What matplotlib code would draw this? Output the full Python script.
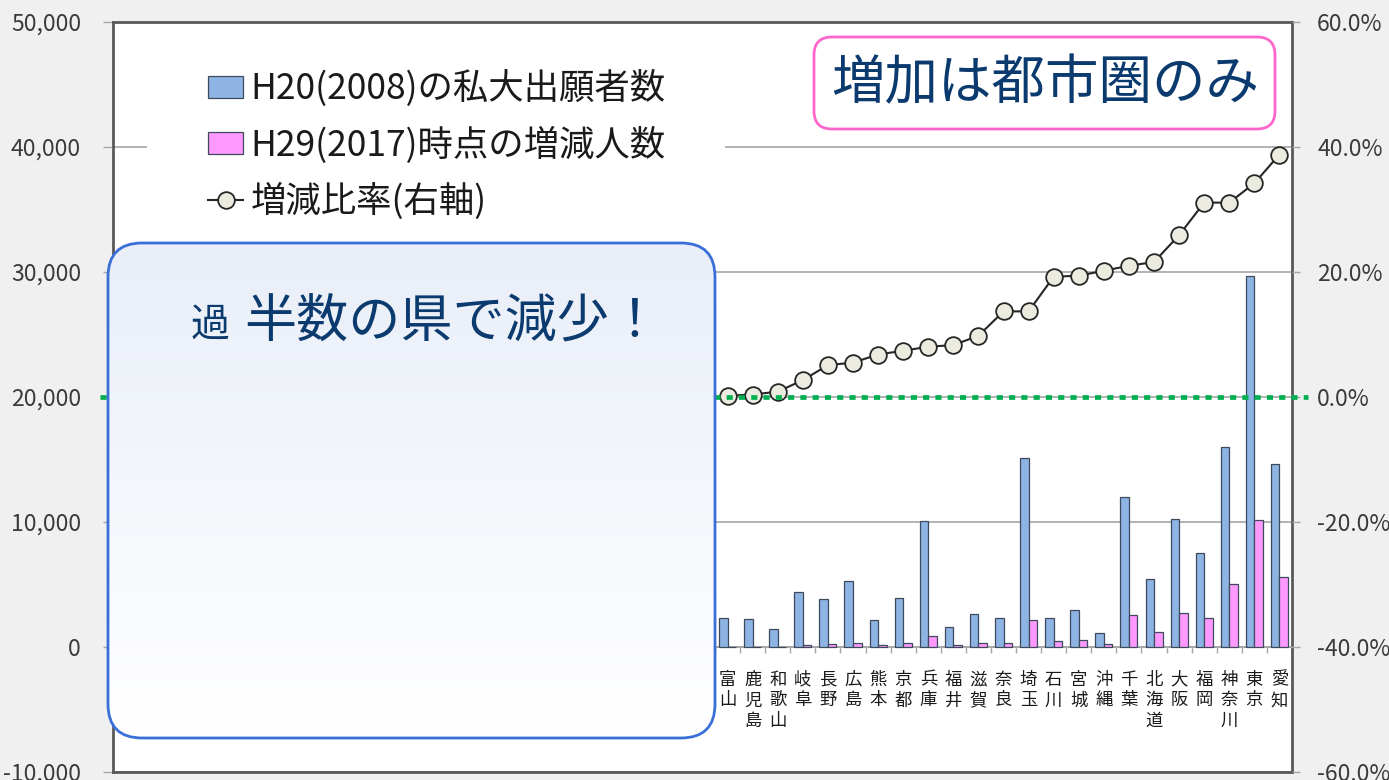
import numpy as np
import matplotlib
matplotlib.use('Agg')
import matplotlib.pyplot as plt
import matplotlib.ticker as mticker
from matplotlib.patches import FancyBboxPatch, Rectangle, Patch
from matplotlib.lines import Line2D
from matplotlib.colors import LinearSegmentedColormap

plt.rcParams['font.family'] = ['Noto Sans CJK JP', 'DejaVu Sans']

# ---------------- data ----------------
# 24 prefectures on the left are hidden under the call-out box in the original
hidden_labels = [''] * 24
visible_prefs = ['富山', '鹿児島', '和歌山', '岐阜', '長野', '広島', '熊本', '京都', '兵庫',
                 '福井', '滋賀', '奈良', '埼玉', '石川', '宮城', '沖縄', '千葉', '北海道',
                 '大阪', '福岡', '神奈川', '東京', '愛知']
applicants_2008 = [2350, 2210, 1440, 4370, 3810, 5250, 2130, 3950, 10080, 1630, 2610, 2350,
                   15150, 2350, 2960, 1150, 11970, 5410, 10210, 7550, 16030, 29700, 14610]
change_2017 = [10, 10, 15, 150, 250, 330, 150, 330, 900, 150, 330, 330,
               2140, 480, 590, 260, 2540, 1230, 2700, 2320, 5060, 10140, 5620]
change_rate = [0.2, 0.4, 0.85, 2.7, 5.1, 5.5, 6.8, 7.4, 8.05, 8.3, 9.8, 13.7,
               13.7, 19.25, 19.4, 20.2, 21.0, 21.6, 25.9, 31.1, 31.1, 34.2, 38.8]

labels = hidden_labels + visible_prefs
nan_pad = [np.nan] * len(hidden_labels)
bars_2008 = np.array(nan_pad + applicants_2008, dtype=float)
bars_2017 = np.array(nan_pad + change_2017, dtype=float)
rates = np.array(nan_pad + change_rate, dtype=float)

left_ticks = list(range(-10000, 50001, 10000))
right_ticks = list(range(-60, 61, 20))

legend_labels = ['H20(2008)の私大出願者数', 'H29(2017)時点の増減人数', '増減比率(右軸)']

# ---------------- figure ----------------
W, H = 1389, 780
fig = plt.figure(figsize=(W / 100, H / 100), dpi=100)
fig.patch.set_facecolor('#f0f0f0')

def fx(px):
    return px / W

def fy(py):
    return 1 - py / H

ax = fig.add_axes([fx(113), fy(772), fx(1292) - fx(113), fy(22) - fy(772)])
ax.set_facecolor('white')
x = np.arange(len(labels))
bw = 0.34
blue = '#8db4e2'
pink = '#ff99ff'
edge = '#3c4a5c'
ax.bar(x - bw / 2, bars_2008, width=bw, color=blue, edgecolor=edge, linewidth=0.9, zorder=3)
ax.bar(x + bw / 2, bars_2017, width=bw, color=pink, edgecolor=edge, linewidth=0.9, zorder=3)

ax.set_xlim(-0.5, len(labels) - 0.5)
ax.set_ylim(-10000, 50000)
ax.set_yticks(left_ticks)
ax.yaxis.set_major_formatter(mticker.FuncFormatter(lambda v, p: f'{v:,.0f}'))
ax.grid(axis='y', color='#a6a6a6', linewidth=1.2, zorder=0)
ax.set_axisbelow(True)

ax.set_xticks(x)
ax.set_xticklabels(['\n'.join(s) for s in labels])
ax.xaxis.set_minor_locator(mticker.FixedLocator(np.arange(-0.5, len(labels), 1.0)))
ax.tick_params(axis='x', which='major', length=0, pad=17, labelsize=12.5,
               labelcolor='#1a1a1a')
for t in ax.get_xticklabels():
    t.set_linespacing(0.88)
ax.tick_params(axis='x', which='minor', length=4, width=1, color='#a6a6a6', direction='out')
ax.tick_params(axis='y', length=7, width=1, color='#a6a6a6', labelsize=16.5,
               labelcolor='#3a3a3a', pad=16)

ax.spines['bottom'].set_position(('data', 0))
ax.spines['bottom'].set_color('#a6a6a6')
ax.spines['bottom'].set_linewidth(1.2)
for s in ['top', 'left', 'right']:
    ax.spines[s].set_color('#595959')
    ax.spines[s].set_linewidth(2)
ax.add_line(Line2D([0, 1], [0, 0], transform=ax.transAxes, color='#595959', lw=2,
                   clip_on=False, zorder=5))

ax2 = ax.twinx()
ax2.set_ylim(-60, 60)
ax2.set_yticks(right_ticks)
ax2.yaxis.set_major_formatter(mticker.FuncFormatter(lambda v, p: f'{v:.1f}%'))
ax2.tick_params(axis='y', length=6, width=1, color='#a6a6a6', labelsize=16.5,
                labelcolor='#3a3a3a', pad=12)
for s in ax2.spines.values():
    s.set_visible(False)
ax2.plot(x, rates, color='#262626', lw=1.5, marker='o', ms=12, mfc='#ebebe0',
         mec='#262626', mew=1.3, zorder=3)
ax2.axhline(0, xmin=-0.011, xmax=1.0136, color='#00b050', lw=3.4,
            linestyle=(0, (1.3, 1.3)), clip_on=False, zorder=4)

# ---------------- overlay (annotations) ----------------
ov = fig.add_axes([0, 0, 1, 1], zorder=10)
ov.set_xlim(0, W)
ov.set_ylim(H, 0)
ov.axis('off')
ov.patch.set_alpha(0)

# white legend background
ov.add_patch(Rectangle((147, 24), 725 - 147, 235 - 24, facecolor='white', edgecolor='none', zorder=1))

handles = [Patch(facecolor=blue, edgecolor=edge, linewidth=0.9),
           Patch(facecolor=pink, edgecolor=edge, linewidth=0.9),
           Line2D([], [], color='#262626', lw=1.5, marker='o', ms=12, mfc='#ebebe0',
                  mec='#262626', mew=1.3)]
leg = ov.legend(handles, legend_labels, loc='upper left',
                bbox_to_anchor=(fx(208), fy(70)), bbox_transform=fig.transFigure,
                frameon=False, fontsize=25.5, handlelength=1.0, handleheight=0.58,
                handletextpad=0.2, labelspacing=0.55, borderpad=0, borderaxespad=0)
for t in leg.get_texts():
    t.set_color('#1a1a1a')
leg.set_zorder(2)

# box: increase only in urban areas
b1 = FancyBboxPatch((814, 37), 1275 - 814, 129 - 37,
                    boxstyle='round,pad=0,rounding_size=18',
                    facecolor='white', edgecolor='#ff66cc', lw=2, zorder=3)
ov.add_patch(b1)
ov.text(1045, 84, '増加は都市圏のみ', fontsize=38.5, color='#0b3a6e',
        ha='center', va='center', zorder=4)

# box: more than half decreased
b2 = FancyBboxPatch((108, 243), 715 - 108, 738 - 243,
                    boxstyle='round,pad=0,rounding_size=34',
                    facecolor='none', edgecolor='#3a6fd8', lw=2, zorder=6)
grad = np.linspace(0, 1, 256).reshape(-1, 1)
cmap = LinearSegmentedColormap.from_list('g', ['#e9eef8', '#ffffff'])
im = ov.imshow(grad, cmap=cmap, aspect='auto', extent=(108, 715, 738, 243),
               origin='upper', zorder=5, interpolation='bilinear')
clip = FancyBboxPatch((108, 243), 715 - 108, 738 - 243,
                      boxstyle='round,pad=0,rounding_size=34', transform=ov.transData,
                      facecolor='none', edgecolor='none')
ov.add_patch(clip)
im.set_clip_path(clip)
ov.add_patch(b2)
ov.text(191, 336, '過', fontsize=28, color='#0b3a6e', ha='left', va='baseline', zorder=7)
ov.text(244, 338, '半数の県で減少！', fontsize=37.5, color='#0b3a6e', ha='left',
        va='baseline', zorder=7)

ov.set_xlim(0, W)
ov.set_ylim(H, 0)

fig.savefig('out.png', dpi=100, facecolor=fig.get_facecolor())
